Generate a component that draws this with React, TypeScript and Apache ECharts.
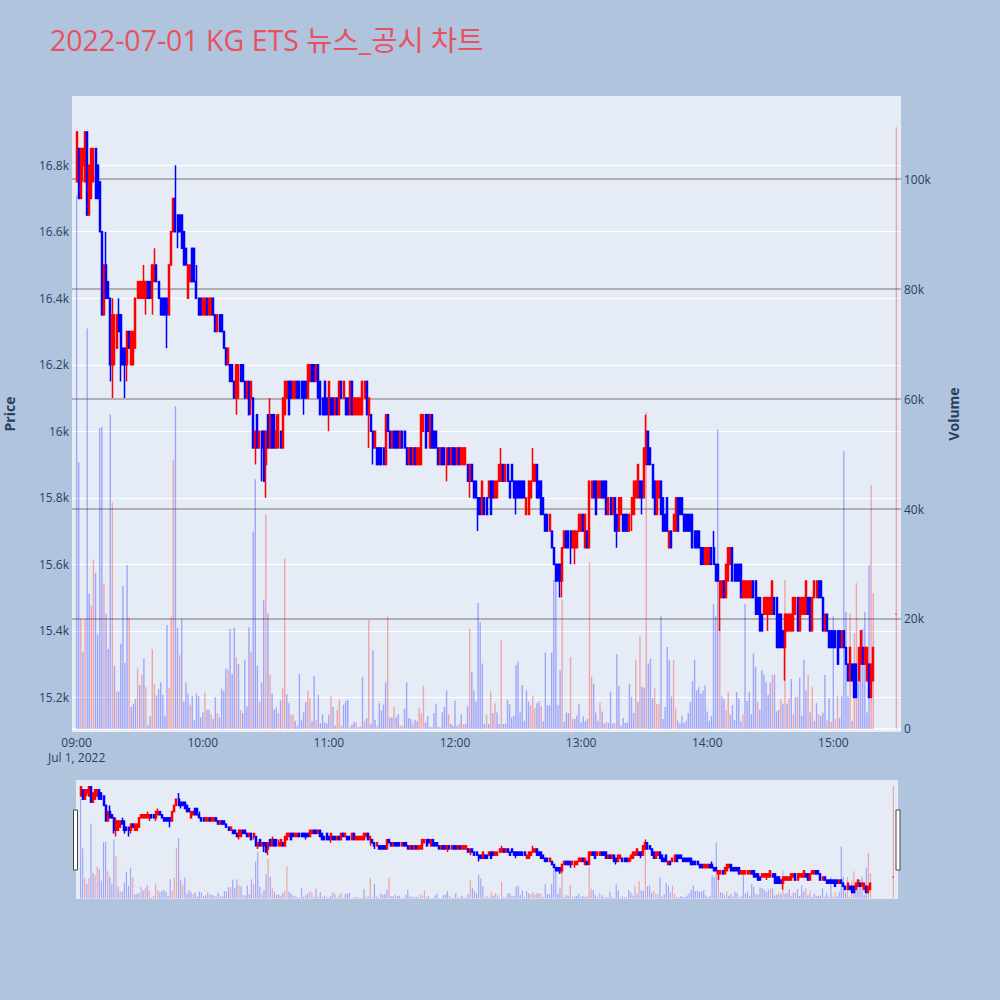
import { useEffect, useRef } from "react";
import * as echarts from "echarts";

const FONT = '"Open Sans", "Noto Sans CJK KR", sans-serif';
const TEXT_COLOR = "#2a3f5f";

// minutes after 09:00; regular session candles run 09:00-15:19, then the 15:30 closing auction
const regularMinutes = 380;
const closingMinute = 390;
const hourTicks = [0, 60, 120, 180, 240, 300, 360];
const priceTicks = [15200, 15400, 15600, 15800, 16000, 16200, 16400, 16600, 16800];
const volumeTicks = [0, 20, 40, 60, 80, 100];

const opens = [
  16750,16850,16700,16800,16750,16900,16650,16700,16750,16850,16800,16750,16600,16350,16500,16450,16400,16200,16200,16250,
  16350,16350,16250,16250,16200,16300,16200,16200,16250,16400,16400,16400,16400,16400,16450,16450,16400,16450,16500,16450,
  16400,16400,16400,16400,16350,16500,16600,16700,16650,16650,16650,16600,16550,16400,16450,16550,16550,16450,16400,16400,
  16350,16350,16400,16350,16350,16400,16350,16300,16350,16350,16300,16250,16200,16200,16200,16150,16100,16100,16200,16200,
  16150,16100,16150,16100,16100,15950,16050,15950,16000,16000,15900,16050,15950,16050,16050,15950,15950,16000,15950,16050,
  16100,16150,16150,16100,16100,16150,16150,16150,16150,16150,16100,16150,16200,16200,16150,16200,16150,16100,16150,16100,
  16050,16100,16100,16050,16100,16050,16150,16100,16100,16100,16050,16150,16050,16050,16050,16050,16050,16100,16150,16050,
  16050,16000,15950,15950,15950,15950,15950,15900,16050,16000,15950,16000,16000,16000,15950,16000,16000,15950,15900,15950,
  15900,15950,15900,15900,15900,16000,16050,16050,15950,16050,16000,16000,15950,15900,15950,15950,15900,15950,15900,15950,
  15950,15900,15950,15900,15900,15900,15900,15850,15900,15850,15850,15800,15800,15750,15800,15800,15800,15850,15850,15800,
  15800,15850,15850,15900,15850,15900,15850,15900,15850,15850,15850,15850,15850,15850,15750,15750,15800,15850,15850,15900,
  15850,15850,15800,15750,15750,15700,15700,15650,15600,15600,15600,15550,15650,15700,15700,15700,15650,15650,15650,15700,
  15700,15750,15650,15700,15650,15800,15850,15850,15800,15800,15850,15850,15850,15750,15800,15750,15800,15750,15700,15750,
  15750,15750,15750,15700,15750,15750,15800,15800,15850,15850,15800,15900,16000,15950,15900,15850,15750,15800,15850,15800,
  15750,15800,15650,15700,15700,15700,15800,15800,15800,15750,15750,15750,15750,15750,15700,15700,15700,15650,15650,15600,
  15600,15600,15650,15650,15600,15600,15500,15500,15550,15500,15550,15600,15650,15600,15600,15600,15600,15500,15500,15500,
  15500,15500,15550,15550,15500,15500,15450,15450,15450,15450,15450,15450,15500,15500,15450,15450,15400,15350,15400,15400,
  15400,15400,15450,15500,15400,15450,15450,15450,15500,15500,15400,15500,15500,15550,15550,15500,15400,15450,15400,15400,
  15400,15400,15400,15400,15350,15400,15350,15300,15250,15300,15300,15300,15250,15300,15350,15300,15250,15300,15200,15250,
  15450,
];

const closes = [
  16900,16700,16850,16850,16900,16650,16800,16850,16850,16700,16700,16600,16350,16500,16400,16400,16200,16350,16350,16350,
  16300,16200,16200,16200,16300,16250,16300,16300,16400,16450,16450,16450,16450,16450,16400,16400,16500,16500,16450,16400,
  16350,16350,16350,16350,16500,16600,16700,16600,16600,16600,16550,16500,16500,16500,16500,16450,16450,16400,16350,16350,
  16400,16400,16350,16400,16400,16350,16300,16350,16300,16300,16250,16200,16250,16150,16150,16100,16200,16200,16150,16150,
  16100,16150,16050,16150,15950,16000,15950,16000,15950,15850,16000,15950,16050,15950,15950,16000,16050,15950,16100,16150,
  16150,16050,16100,16150,16150,16100,16100,16100,16100,16100,16200,16200,16150,16150,16200,16100,16050,16050,16050,16050,
  16150,16050,16050,16100,16050,16150,16100,16150,16050,16050,16150,16050,16100,16100,16100,16100,16150,16150,16050,16100,
  16000,15950,16000,15900,15900,15900,15900,16050,16000,15950,16000,15950,15950,15950,16000,15950,15950,15900,15950,15900,
  15950,15900,15950,15950,16050,16050,15950,16000,16050,15950,15950,15950,15900,15950,15900,15900,15950,15900,15950,15900,
  15900,15950,15900,15950,15950,15950,15850,15900,15850,15800,15800,15750,15750,15850,15750,15750,15850,15750,15800,15850,
  15850,15900,15900,15850,15900,15850,15800,15850,15800,15800,15800,15800,15800,15800,15800,15850,15850,15900,15900,15800,
  15800,15750,15750,15700,15700,15750,15650,15600,15550,15550,15550,15650,15700,15650,15650,15650,15700,15700,15700,15750,
  15750,15700,15750,15650,15850,15850,15800,15750,15850,15850,15800,15800,15750,15800,15750,15800,15700,15700,15800,15800,
  15700,15700,15700,15750,15800,15850,15850,15900,15800,15800,15950,16000,15900,15900,15800,15750,15850,15850,15750,15700,
  15700,15700,15700,15650,15750,15800,15700,15750,15750,15700,15700,15700,15700,15650,15650,15650,15650,15600,15600,15650,
  15650,15650,15600,15600,15550,15550,15550,15550,15500,15600,15650,15650,15550,15550,15550,15550,15500,15550,15550,15550,
  15550,15550,15500,15450,15450,15400,15400,15500,15500,15500,15500,15550,15450,15350,15350,15350,15350,15450,15450,15450,
  15450,15500,15500,15400,15500,15500,15500,15550,15450,15400,15500,15550,15550,15500,15500,15400,15450,15400,15350,15350,
  15350,15350,15300,15350,15400,15350,15300,15250,15350,15250,15200,15200,15350,15400,15300,15350,15350,15200,15300,15350,
  15450,
];

const highs = [
  16900,16850,16850,16850,16900,16900,16800,16850,16850,16850,16800,16750,16600,16500,16600,16450,16400,16400,16350,16350,
  16400,16350,16250,16250,16300,16300,16300,16300,16400,16450,16450,16450,16500,16450,16450,16450,16500,16550,16500,16450,
  16400,16400,16400,16400,16500,16600,16700,16800,16650,16650,16650,16600,16550,16500,16500,16550,16550,16500,16400,16400,
  16400,16400,16400,16400,16400,16400,16350,16350,16350,16350,16300,16250,16250,16200,16200,16150,16200,16200,16200,16200,
  16150,16150,16150,16150,16100,16000,16050,16000,16000,16000,16000,16050,16100,16050,16050,16050,16050,16000,16100,16150,
  16150,16150,16150,16150,16150,16150,16150,16150,16150,16150,16200,16200,16200,16200,16200,16200,16150,16100,16150,16100,
  16150,16100,16100,16100,16100,16150,16150,16150,16100,16100,16150,16150,16100,16100,16100,16100,16150,16150,16150,16100,
  16050,16000,16000,15950,15950,15950,15950,16050,16050,16000,16000,16000,16000,16000,16000,16000,16000,15950,15950,15950,
  15950,15950,15950,15950,16050,16050,16050,16050,16050,16050,16000,16000,15950,15950,15950,15950,15950,15950,15950,15950,
  15950,15950,15950,15950,15950,15950,15900,15900,15900,15850,15850,15800,15800,15850,15800,15800,15850,15850,15850,15850,
  15850,15900,15950,15900,15900,15900,15850,15900,15850,15850,15850,15850,15850,15850,15800,15850,15850,15950,15900,15900,
  15850,15850,15800,15750,15750,15750,15700,15650,15600,15600,15600,15650,15700,15700,15700,15700,15700,15700,15700,15750,
  15750,15750,15750,15700,15850,15850,15850,15850,15850,15850,15850,15850,15850,15800,15800,15800,15800,15750,15800,15800,
  15750,15750,15750,15750,15800,15850,15850,15900,15850,15850,15950,16050,16000,15950,15900,15850,15850,15850,15850,15800,
  15750,15800,15700,15700,15750,15800,15800,15800,15800,15750,15750,15750,15750,15750,15700,15700,15700,15650,15650,15650,
  15650,15650,15650,15700,15600,15600,15550,15550,15550,15600,15650,15650,15650,15600,15600,15600,15600,15550,15550,15550,
  15550,15550,15550,15550,15500,15500,15450,15500,15500,15500,15500,15550,15500,15500,15450,15450,15400,15450,15450,15450,
  15450,15500,15500,15500,15500,15500,15500,15550,15500,15500,15500,15550,15550,15550,15550,15500,15450,15450,15400,15400,
  15400,15400,15400,15400,15400,15400,15350,15300,15350,15300,15300,15300,15350,15400,15350,15350,15350,15300,15300,15350,
  15450,
];

const lows = [
  16750,16700,16700,16750,16750,16650,16650,16700,16750,16700,16700,16600,16350,16350,16400,16400,16150,16100,16200,16250,
  16300,16150,16200,16100,16150,16250,16200,16200,16250,16400,16400,16400,16400,16350,16400,16400,16350,16450,16450,16400,
  16350,16350,16350,16250,16350,16500,16600,16600,16550,16600,16550,16500,16500,16400,16450,16450,16450,16400,16350,16350,
  16350,16350,16350,16350,16350,16350,16300,16300,16300,16300,16250,16200,16200,16150,16150,16100,16050,16100,16150,16150,
  16100,16100,16050,16050,15950,15900,15950,15950,15850,15850,15800,15950,15950,15950,15950,15950,15950,15950,15950,16050,
  16100,16050,16100,16100,16100,16100,16100,16100,16050,16100,16100,16150,16150,16150,16150,16100,16050,16050,16050,16050,
  16000,16050,16050,16050,16050,16050,16100,16100,16050,16050,16050,16050,16050,16050,16050,16050,16050,16100,16050,15950,
  16000,15900,15950,15900,15900,15900,15900,15900,16000,15950,15950,15950,15950,15950,15950,15950,15950,15900,15900,15900,
  15900,15900,15900,15900,15900,16000,15950,16000,15950,15950,15950,15950,15900,15900,15900,15900,15850,15900,15900,15900,
  15900,15900,15900,15900,15900,15900,15850,15800,15850,15800,15800,15700,15750,15750,15750,15750,15800,15750,15800,15800,
  15800,15850,15850,15850,15850,15850,15800,15850,15800,15750,15800,15800,15800,15800,15750,15750,15800,15850,15850,15800,
  15800,15750,15750,15700,15700,15700,15650,15600,15550,15550,15500,15500,15650,15650,15650,15600,15650,15600,15650,15700,
  15700,15700,15650,15650,15650,15800,15800,15750,15800,15800,15800,15800,15750,15750,15750,15750,15700,15650,15700,15750,
  15700,15700,15700,15700,15700,15750,15800,15800,15800,15750,15800,15900,15900,15900,15800,15750,15750,15800,15750,15700,
  15700,15700,15650,15650,15700,15700,15700,15750,15750,15700,15700,15700,15700,15650,15650,15650,15650,15600,15600,15600,
  15600,15600,15600,15600,15550,15550,15400,15500,15500,15500,15550,15600,15550,15550,15550,15550,15500,15500,15500,15500,
  15500,15500,15500,15450,15450,15400,15400,15450,15450,15400,15450,15450,15450,15350,15350,15350,15350,15250,15400,15400,
  15400,15400,15450,15400,15400,15450,15450,15450,15450,15400,15400,15500,15500,15500,15500,15400,15400,15400,15350,15350,
  15350,15350,15300,15350,15350,15350,15300,15250,15250,15250,15200,15200,15250,15300,15300,15300,15250,15200,15200,15250,
  15450,
];

// volume in thousands of shares
const volumesK = [
  97,48.5,20,14,20,72.8,24.6,22.4,30.8,28.4,17.2,54.7,54.9,26.5,21,14.6,57.2,41.2,11.5,6.8,
  6.8,15.5,26,12,29.8,20.3,4,4.6,5.4,11,8,9.8,12.8,7.6,0.7,2.3,14.5,8.2,6.1,7.3,
  8.5,6.2,2.4,18.9,7.5,20.4,48.9,58.7,18.4,13.4,20,5,8.4,6.4,4.4,6,1.6,6.4,6,2.1,
  3,6.6,3.5,3.5,2.6,1.8,5.8,2.9,2.1,7.3,6.9,11,10.8,18.2,10,18.4,13.1,11.8,3.4,2.9,
  12.5,4.1,18.5,14,35.9,45.4,11.5,4.9,8.5,23.4,38.9,21,9.8,6.4,3.5,3.9,2.9,5.2,7.4,31,
  6.3,4.7,2.7,2.6,1.5,0.6,10,1.6,3,4.9,6.9,5.6,1.4,9.6,1.6,6.2,1.1,2.7,1.2,1,
  2.6,5.9,4,0.6,3.5,5.4,0.6,4.4,5.1,5.3,0.3,0.8,1.3,1.2,0.3,0.4,9.5,1.5,2,19.8,
  0.9,14.3,1.7,0.6,4.7,3.4,4.4,8.5,20.4,2.1,2.1,4,2.1,2.7,0.6,0.6,3.7,8.5,2,1.8,
  1,1.7,1.4,3.8,2.9,7.8,1.2,2.3,0.3,0.3,2.9,4.6,0.4,0.3,3,4,7,2.6,0.9,0.6,
  5.2,0.6,1,2.7,0.9,0.9,4.1,18.2,10.4,7,5,22.9,19.4,11.9,0.9,2.7,0.9,6.8,2.9,4.7,
  3,0.9,16.2,0.9,1,5.3,4.5,2.1,2.4,11.6,12.3,3,8,1.5,7,5,4.3,6.1,3.8,4.7,
  5,4.2,1.4,13.9,4.3,4.3,13.9,27.1,27.1,4.3,10.7,23.5,1.3,3,2.9,13.1,1.8,1.8,2.4,4.5,
  1.2,2.3,1.4,1.8,30.3,9.5,8.2,3,1.5,4.8,3.2,1,1.3,1.1,6.8,1,1,13.6,7.8,0.6,
  2,1.1,1.2,8.2,5.8,2.9,12.6,4.9,16.8,7.7,7.5,57.6,11.9,12.8,5.6,7.4,4.5,4.5,20.5,1.8,
  4,14.9,12.5,5.9,12.5,3.7,1.5,1,2.4,1.1,1.5,2.9,4.9,8.7,12.6,7,7.6,6.4,7,7.9,
  3.2,1.5,2.4,22.7,20.5,54.4,20.4,5.9,5.4,3.4,6.7,2.6,4.3,1.6,6.7,5.6,1.4,2.7,22.7,5.1,
  6.8,2.7,13.7,11.3,4.9,3.5,10.7,9.9,8.5,6.2,8.4,9.8,9.9,3.2,3.5,5.5,4.6,27.1,4.6,5.6,
  9.1,2.7,5.8,5.9,9.3,2.4,12.6,7,9.8,3,7.6,1.5,4.7,2.7,2.4,3,9.8,1.6,5.6,1.3,
  20.5,1.8,6.1,2,5.9,50.5,21.3,5.9,21,1.5,17.4,26.5,8.5,13.7,18.2,21.3,3,29.8,44.3,24.7,
  109.4,
];

// minutes whose volume bar is drawn in the "up" (red) colour
const redVolumeMinutes = [
  2,4,7,8,13,17,19,25,29,31,33,36,37,44,45,46,49,54,61,64,67,72,76,78,83,87,90,92,96,98,99,
  102,103,110,111,114,121,124,125,126,130,133,137,139,143,148,151,154,155,160,163,164,165,
  173,177,182,184,187,195,197,199,202,216,217,218,221,231,235,236,244,245,249,252,256,266,
  268,271,275,276,277,284,285,306,309,310,317,324,331,335,337,339,341,343,348,350,353,357,
  359,361,362,368,370,371,378,379,390,
];

const X_MIN = -2.2;
const X_MAX = 392.2;
const PRICE_MIN = 15096;
const PRICE_MAX = 17008;
const VOL_MIN = -0.55;
const VOL_MAX = 115.1;

const candleMinutes = opens.map((_, i) => (i < regularMinutes ? i : closingMinute));
const redSet = new Set(redVolumeMinutes);

const candleData = opens.map((o, i) => [candleMinutes[i], o, closes[i], lows[i], highs[i]]);
const volumeData = volumesK.map((v, i) => ({
  value: [candleMinutes[i], v],
  itemStyle: { color: redSet.has(candleMinutes[i]) ? "rgba(255,0,0,0.3)" : "rgba(0,0,255,0.3)" },
}));

const candleStyle = {
  color: "#ff0000",
  color0: "#0000ff",
  borderColor: "#ff0000",
  borderColor0: "#0000ff",
  borderColorDoji: "#ff0000",
  borderWidth: 1.5,
};

function hourLabel(v: number) {
  const h = 9 + Math.round(v / 60);
  const s = `${h < 10 ? "0" : ""}${h}:00`;
  return v === 0 ? `${s}\nJul 1, 2022` : s;
}

export default function App() {
  const chartRef = useRef<HTMLDivElement>(null);

  useEffect(() => {
    if (!chartRef.current) return;
    const chart = echarts.init(chartRef.current, null, { renderer: "svg" });

    const hiddenAxis = { show: false };

    chart.setOption({
      animation: false,
      backgroundColor: "#b0c4de",
      textStyle: { fontFamily: FONT },
      title: {
        text: "2022-07-01 KG ETS 뉴스_공시 차트",
        left: 50,
        top: 26,
        padding: 0,
        textStyle: { color: "#e8525f", fontSize: 28.5, fontWeight: "normal", fontFamily: FONT },
      },
      grid: [
        { left: 72, top: 96, width: 829, height: 636, show: true, backgroundColor: "#e5ecf6", borderWidth: 0, outerBoundsMode: "none", containLabel: false },
        { left: 76, top: 780, width: 822, height: 119, show: true, backgroundColor: "#e5ecf6", borderWidth: 0, outerBoundsMode: "none", containLabel: false },
      ],
      xAxis: [
        {
          type: "value",
          gridIndex: 0,
          min: X_MIN,
          max: X_MAX,
          axisLine: { show: false },
          axisTick: { show: false },
          splitLine: { show: false },
          axisLabel: {
            customValues: hourTicks,
            formatter: hourLabel,
            color: TEXT_COLOR,
            fontSize: 12,
            lineHeight: 15,
            margin: 3,
            fontFamily: FONT,
          },
        },
        { type: "value", gridIndex: 1, min: X_MIN, max: X_MAX, ...hiddenAxis },
      ],
      yAxis: [
        {
          type: "value",
          gridIndex: 0,
          position: "left",
          min: PRICE_MIN,
          max: PRICE_MAX,
          name: "Price",
          nameLocation: "middle",
          nameGap: 56,
          nameTextStyle: { color: TEXT_COLOR, fontSize: 14, fontWeight: "bold", fontFamily: FONT },
          axisLine: { show: false },
          axisTick: { show: false },
          splitLine: { show: false },
          axisLabel: {
            customValues: priceTicks,
            formatter: (v: number) => `${v / 1000}k`,
            color: TEXT_COLOR,
            fontSize: 12,
            margin: 3,
            fontFamily: FONT,
          },
        },
        {
          type: "value",
          gridIndex: 0,
          position: "right",
          min: VOL_MIN,
          max: VOL_MAX,
          name: "Volume",
          nameLocation: "middle",
          nameGap: 45,
          nameTextStyle: { color: TEXT_COLOR, fontSize: 14, fontWeight: "bold", fontFamily: FONT },
          axisLine: { show: false },
          axisTick: { show: false },
          splitLine: { show: false },
          axisLabel: {
            customValues: volumeTicks,
            formatter: (v: number) => (v === 0 ? "0" : `${v}k`),
            color: TEXT_COLOR,
            fontSize: 12,
            margin: 3,
            fontFamily: FONT,
          },
        },
        { type: "value", gridIndex: 1, min: PRICE_MIN, max: PRICE_MAX, ...hiddenAxis },
        { type: "value", gridIndex: 1, min: VOL_MIN, max: VOL_MAX, ...hiddenAxis },
      ],
      series: [
        {
          name: "Volume",
          type: "bar",
          xAxisIndex: 0,
          yAxisIndex: 1,
          barWidth: 1.4,
          z: 2,
          data: volumeData,
          markLine: {
            silent: true,
            symbol: "none",
            z: 1,
            label: { show: false },
            animation: false,
            data: [
              ...volumeTicks.filter((v) => v > 0).map((v) => ({ yAxis: v, lineStyle: { color: "#b0b0b0", width: 2, type: "solid" } })),
              { yAxis: 0, lineStyle: { color: "#ffffff", width: 1.5, type: "solid" } },
            ],
          },
        },
        {
          name: "Price",
          type: "candlestick",
          xAxisIndex: 0,
          yAxisIndex: 0,
          barWidth: 1.5,
          z: 3,
          encode: { x: 0, y: [1, 2, 3, 4] },
          itemStyle: candleStyle,
          data: candleData,
          markLine: {
            silent: true,
            symbol: "none",
            z: 1,
            label: { show: false },
            animation: false,
            lineStyle: { color: "#ffffff", width: 1, type: "solid" },
            data: priceTicks.map((v) => ({ yAxis: v })),
          },
        },
        {
          type: "bar",
          xAxisIndex: 1,
          yAxisIndex: 3,
          barWidth: 1.2,
          z: 2,
          data: volumeData,
        },
        {
          type: "candlestick",
          xAxisIndex: 1,
          yAxisIndex: 2,
          barWidth: 1.5,
          z: 3,
          encode: { x: 0, y: [1, 2, 3, 4] },
          itemStyle: { ...candleStyle, borderWidth: 1.5 },
          data: candleData,
        },
      ],
      graphic: [
        { type: "rect", shape: { x: 73.5, y: 810, width: 4, height: 60 }, style: { fill: "#ffffff", stroke: "#444444", lineWidth: 1 }, z: 10 },
        { type: "rect", shape: { x: 896, y: 810, width: 4, height: 60 }, style: { fill: "#ffffff", stroke: "#444444", lineWidth: 1 }, z: 10 },
      ],
    });

    return () => {
      chart.dispose();
    };
  }, []);

  return <div ref={chartRef} style={{ position: "absolute", left: 0, top: 0, width: 1000, height: 1000 }} />;
}
